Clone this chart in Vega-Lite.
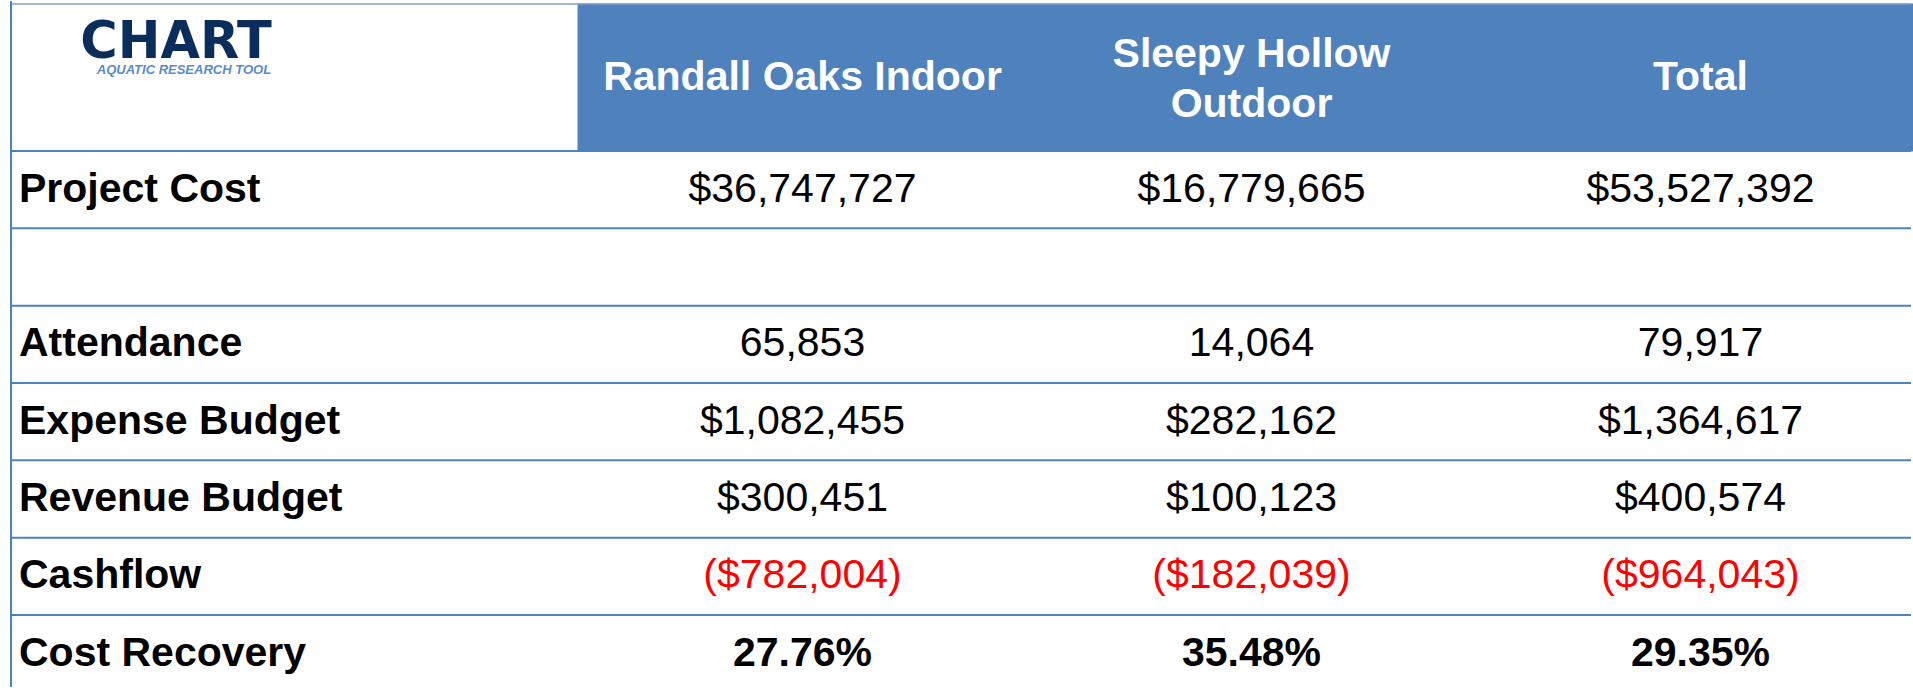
{
  "$schema": "https://vega.github.io/schema/vega-lite/v6.json",
  "width": 1913,
  "height": 688,
  "padding": {"left": 10, "top": 0, "right": 0, "bottom": 0},
  "autosize": {"type": "fit", "contains": "padding"},
  "background": "#ffffff",
  "config": {"view": {"stroke": null}, "text": {"font": "Liberation Sans"}},
  "datasets": {
    "columns": [
      {"site": "Randall Oaks Indoor", "heading": "Randall Oaks Indoor", "lines": 1},
      {"site": "Sleepy Hollow Outdoor", "heading": "Sleepy Hollow\nOutdoor", "lines": 2},
      {"site": "Total", "heading": "Total", "lines": 1}
    ],
    "metrics": [
      {"metric": "Project Cost"},
      {"metric": ""},
      {"metric": "Attendance"},
      {"metric": "Expense Budget"},
      {"metric": "Revenue Budget"},
      {"metric": "Cashflow"},
      {"metric": "Cost Recovery"}
    ],
    "cells": [
      {"metric": "Project Cost", "site": "Randall Oaks Indoor", "text": "$36,747,727"},
      {"metric": "Project Cost", "site": "Sleepy Hollow Outdoor", "text": "$16,779,665"},
      {"metric": "Project Cost", "site": "Total", "text": "$53,527,392"},
      {"metric": "Attendance", "site": "Randall Oaks Indoor", "text": "65,853"},
      {"metric": "Attendance", "site": "Sleepy Hollow Outdoor", "text": "14,064"},
      {"metric": "Attendance", "site": "Total", "text": "79,917"},
      {"metric": "Expense Budget", "site": "Randall Oaks Indoor", "text": "$1,082,455"},
      {"metric": "Expense Budget", "site": "Sleepy Hollow Outdoor", "text": "$282,162"},
      {"metric": "Expense Budget", "site": "Total", "text": "$1,364,617"},
      {"metric": "Revenue Budget", "site": "Randall Oaks Indoor", "text": "$300,451"},
      {"metric": "Revenue Budget", "site": "Sleepy Hollow Outdoor", "text": "$100,123"},
      {"metric": "Revenue Budget", "site": "Total", "text": "$400,574"},
      {"metric": "Cashflow", "site": "Randall Oaks Indoor", "text": "($782,004)"},
      {"metric": "Cashflow", "site": "Sleepy Hollow Outdoor", "text": "($182,039)"},
      {"metric": "Cashflow", "site": "Total", "text": "($964,043)"},
      {"metric": "Cost Recovery", "site": "Randall Oaks Indoor", "text": "27.76%"},
      {"metric": "Cost Recovery", "site": "Sleepy Hollow Outdoor", "text": "35.48%"},
      {"metric": "Cost Recovery", "site": "Total", "text": "29.35%"}
    ],
    "logo": [{"name": "CHART", "tagline": "AQUATIC RESEARCH TOOL"}]
  },
  "resolve": {"scale": {"x": "independent", "y": "independent"}},
  "layer": [
    {
      "data": {"name": "columns"},
      "mark": {"type": "rect", "fill": "#4F81BD", "stroke": "#4F81BD", "strokeWidth": 1},
      "encoding": {
        "x": {"field": "site", "type": "nominal", "axis": null,
              "scale": {"domain": ["Randall Oaks Indoor", "Sleepy Hollow Outdoor", "Total"], "range": [567, 1914], "paddingInner": 0, "paddingOuter": 0}},
        "y": {"datum": "header", "type": "nominal", "axis": null,
              "scale": {"domain": ["header"], "range": [3, 150], "paddingInner": 0, "paddingOuter": 0}}
      }
    },
    {
      "data": {"name": "metrics"},
      "mark": {"type": "rule", "color": "#4F81BD", "strokeWidth": 2},
      "encoding": {
        "y": {"field": "metric", "type": "nominal", "bandPosition": 0, "axis": null,
              "scale": {"domain": ["Project Cost", "", "Attendance", "Expense Budget", "Revenue Budget", "Cashflow", "Cost Recovery"], "range": [150, 691.3], "paddingInner": 0, "paddingOuter": 0}}
      }
    },
    {
      "data": {"name": "logo"},
      "mark": {"type": "rule", "color": "#7FA2D0", "strokeWidth": 1.5},
      "encoding": {
        "y": {"datum": "header", "type": "nominal", "bandPosition": 0, "axis": null,
              "scale": {"domain": ["header"], "range": [3, 150], "paddingInner": 0, "paddingOuter": 0}}
      }
    },
    {
      "data": {"name": "logo"},
      "mark": {"type": "rule", "color": "#4F81BD", "strokeWidth": 2},
      "encoding": {
        "x": {"datum": "labels", "type": "nominal", "bandPosition": 0, "axis": null,
              "scale": {"domain": ["labels"], "range": [0, 567], "paddingInner": 0, "paddingOuter": 0}}
      }
    },
    {
      "data": {"name": "columns"},
      "transform": [{"filter": "datum.lines === 1"}],
      "mark": {"type": "text", "fontSize": 41, "fontWeight": "bold", "color": "#ffffff", "align": "center", "baseline": "middle"},
      "encoding": {
        "x": {"field": "site", "type": "nominal", "axis": null,
              "scale": {"domain": ["Randall Oaks Indoor", "Sleepy Hollow Outdoor", "Total"], "range": [567, 1914], "paddingInner": 0, "paddingOuter": 0}},
        "y": {"datum": "header", "type": "nominal", "axis": null,
              "scale": {"domain": ["header"], "range": [3, 150], "paddingInner": 0, "paddingOuter": 0}},
        "text": {"field": "heading", "type": "nominal"}
      }
    },
    {
      "data": {"name": "columns"},
      "transform": [{"filter": "datum.lines === 2"}],
      "mark": {"type": "text", "fontSize": 41, "fontWeight": "bold", "color": "#ffffff", "align": "center", "baseline": "middle", "lineBreak": "\n", "lineHeight": 50, "dy": -23},
      "encoding": {
        "x": {"field": "site", "type": "nominal", "axis": null,
              "scale": {"domain": ["Randall Oaks Indoor", "Sleepy Hollow Outdoor", "Total"], "range": [567, 1914], "paddingInner": 0, "paddingOuter": 0}},
        "y": {"datum": "header", "type": "nominal", "axis": null,
              "scale": {"domain": ["header"], "range": [3, 150], "paddingInner": 0, "paddingOuter": 0}},
        "text": {"field": "heading", "type": "nominal"}
      }
    },
    {
      "data": {"name": "logo"},
      "mark": {"type": "text", "fontSize": 51, "fontWeight": 900, "font": "DejaVu Sans", "color": "#0B2D5B", "align": "center", "baseline": "alphabetic"},
      "encoding": {
        "x": {"datum": "labels", "type": "nominal", "axis": null,
              "scale": {"type": "point", "domain": ["labels"], "range": [0, 567], "padding": 0, "align": 0.291}},
        "y": {"datum": "header", "type": "nominal", "axis": null,
              "scale": {"type": "point", "domain": ["header"], "range": [3, 150], "padding": 0, "align": 0.367}},
        "text": {"field": "name", "type": "nominal"}
      }
    },
    {
      "data": {"name": "logo"},
      "mark": {"type": "text", "fontSize": 13, "fontWeight": "bold", "fontStyle": "italic", "color": "#5B8AC8", "align": "center", "baseline": "middle"},
      "encoding": {
        "x": {"datum": "labels", "type": "nominal", "axis": null,
              "scale": {"type": "point", "domain": ["labels"], "range": [0, 567], "padding": 0, "align": 0.305}},
        "y": {"datum": "header", "type": "nominal", "axis": null,
              "scale": {"type": "point", "domain": ["header"], "range": [3, 150], "padding": 0, "align": 0.452}},
        "text": {"field": "tagline", "type": "nominal"}
      }
    },
    {
      "data": {"name": "metrics"},
      "mark": {"type": "text", "fontSize": 41, "fontWeight": "bold", "color": "#000000", "align": "left", "baseline": "middle"},
      "encoding": {
        "x": {"datum": "labels", "type": "nominal", "axis": null,
              "scale": {"type": "point", "domain": ["labels"], "range": [8, 567], "padding": 0, "align": 0}},
        "y": {"field": "metric", "type": "nominal", "axis": null,
              "scale": {"domain": ["Project Cost", "", "Attendance", "Expense Budget", "Revenue Budget", "Cashflow", "Cost Recovery"], "range": [150, 691.3], "paddingInner": 0, "paddingOuter": 0}},
        "text": {"field": "metric", "type": "nominal"}
      }
    },
    {
      "data": {"name": "cells"},
      "transform": [{"filter": "datum.metric !== 'Cost Recovery'"}],
      "mark": {"type": "text", "fontSize": 41, "align": "center", "baseline": "middle"},
      "encoding": {
        "x": {"field": "site", "type": "nominal", "axis": null,
              "scale": {"domain": ["Randall Oaks Indoor", "Sleepy Hollow Outdoor", "Total"], "range": [567, 1914], "paddingInner": 0, "paddingOuter": 0}},
        "y": {"field": "metric", "type": "nominal", "axis": null,
              "scale": {"domain": ["Project Cost", "", "Attendance", "Expense Budget", "Revenue Budget", "Cashflow", "Cost Recovery"], "range": [150, 691.3], "paddingInner": 0, "paddingOuter": 0}},
        "text": {"field": "text", "type": "nominal"},
        "color": {"condition": {"test": "datum.metric === 'Cashflow'", "value": "#FF0000"}, "value": "#000000"}
      }
    },
    {
      "data": {"name": "cells"},
      "transform": [{"filter": "datum.metric === 'Cost Recovery'"}],
      "mark": {"type": "text", "fontSize": 41, "fontWeight": "bold", "color": "#000000", "align": "center", "baseline": "middle"},
      "encoding": {
        "x": {"field": "site", "type": "nominal", "axis": null,
              "scale": {"domain": ["Randall Oaks Indoor", "Sleepy Hollow Outdoor", "Total"], "range": [567, 1914], "paddingInner": 0, "paddingOuter": 0}},
        "y": {"field": "metric", "type": "nominal", "axis": null,
              "scale": {"domain": ["Project Cost", "", "Attendance", "Expense Budget", "Revenue Budget", "Cashflow", "Cost Recovery"], "range": [150, 691.3], "paddingInner": 0, "paddingOuter": 0}},
        "text": {"field": "text", "type": "nominal"}
      }
    }
  ]
}
